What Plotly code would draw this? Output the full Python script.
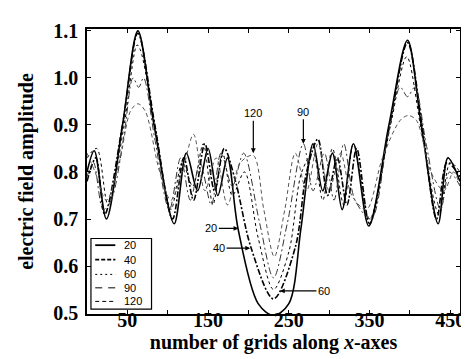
import plotly.graph_objects as go

# ---- data ----
x20 = [0, 9, 24, 44, 63, 83, 108, 123, 137, 150, 162, 174, 187, 212, 231, 250, 265, 280, 292, 304, 316, 330, 349, 374, 397, 414, 435, 447, 462]
y20 = [0.80, 0.845, 0.70, 0.90, 1.10, 0.90, 0.69, 0.84, 0.76, 0.85, 0.75, 0.83, 0.68, 0.52, 0.495, 0.52, 0.68, 0.86, 0.76, 0.84, 0.72, 0.86, 0.685, 0.90, 1.08, 0.90, 0.69, 0.83, 0.78]

x40 = [0, 11, 22, 44, 63, 84, 106, 120, 132, 146, 158, 170, 184, 203, 231, 258, 272, 286, 298, 310, 322, 334, 350, 375, 397, 415, 433, 446, 462]
y40 = [0.78, 0.83, 0.71, 0.90, 1.095, 0.90, 0.70, 0.83, 0.74, 0.86, 0.76, 0.85, 0.78, 0.64, 0.53, 0.64, 0.80, 0.87, 0.75, 0.83, 0.73, 0.85, 0.69, 0.90, 1.075, 0.90, 0.70, 0.82, 0.79]

x60 = [0, 12, 26, 46, 62, 66, 84, 104, 118, 131, 144, 156, 168, 180, 195, 212, 231, 250, 266, 280, 292, 304, 318, 330, 350, 376, 396, 414, 436, 450, 462]
y60 = [0.83, 0.85, 0.73, 0.90, 1.07, 1.06, 0.90, 0.72, 0.82, 0.77, 0.86, 0.73, 0.84, 0.75, 0.80, 0.66, 0.55, 0.63, 0.80, 0.84, 0.74, 0.85, 0.73, 0.86, 0.70, 0.90, 1.045, 0.89, 0.71, 0.82, 0.80]

x90 = [0, 8, 20, 30, 46, 57, 64, 70, 84, 102, 116, 128, 140, 154, 166, 180, 194, 214, 231, 248, 268, 280, 294, 306, 318, 332, 352, 373, 388, 397, 406, 420, 438, 449, 462]
y90 = [0.79, 0.82, 0.72, 0.74, 0.88, 1.00, 0.98, 1.00, 0.87, 0.72, 0.83, 0.74, 0.82, 0.73, 0.84, 0.77, 0.84, 0.69, 0.575, 0.69, 0.86, 0.76, 0.84, 0.74, 0.86, 0.74, 0.70, 0.88, 0.98, 0.96, 0.98, 0.86, 0.72, 0.80, 0.77]

x120 = [0, 10, 24, 40, 54, 63, 72, 90, 104, 118, 132, 146, 160, 174, 190, 206, 219, 232, 245, 258, 272, 286, 300, 314, 328, 346, 366, 388, 398, 408, 426, 442, 454, 462]
y120 = [0.84, 0.80, 0.74, 0.82, 0.93, 0.945, 0.93, 0.80, 0.74, 0.80, 0.88, 0.76, 0.83, 0.73, 0.82, 0.835, 0.72, 0.62, 0.72, 0.84, 0.76, 0.86, 0.76, 0.84, 0.75, 0.72, 0.83, 0.91, 0.92, 0.91, 0.80, 0.76, 0.80, 0.77]

series_names = ["20", "40", "60", "90", "120"]
xtick_vals = [50, 100, 150, 200, 250, 300, 350, 400, 450]
xtick_text = ["50", "", "150", "", "250", "", "350", "", "450"]
ytick_vals = [0.5, 0.6, 0.7, 0.8, 0.9, 1.0, 1.1]
ytick_text = ["0.5", "0.6", "0.7", "0.8", "0.9", "1.0", "1.1"]

styles = [
    dict(color="black", width=1.6, dash="solid"),
    dict(color="black", width=1.6, dash="6px,2px,2px,2px"),
    dict(color="black", width=1.0, dash="dot"),
    dict(color="#333333", width=1.0, dash="7px,3px,2px,3px"),
    dict(color="#555555", width=1.0, dash="4px,3px"),
]
legend_dash = ["solid", "4px,2px", "2px,3px", "7px,6px", "4px,3px"]
legend_width = [1.8, 1.8, 1.0, 1.0, 1.0]

fig = go.Figure()
for name, xs, ys, st in zip(series_names, [x20, x40, x60, x90, x120],
                            [y20, y40, y60, y90, y120], styles):
    fig.add_trace(go.Scatter(x=xs, y=ys, mode="lines", name=name, showlegend=False,
                             line=dict(shape="spline", smoothing=0.9, **st)))

serif = "Liberation Serif"
sans = "Liberation Sans"

axis_common = dict(showline=True, linecolor="black", linewidth=1.5, mirror="ticks",
                   ticks="inside", ticklen=4, tickcolor="black", showgrid=False,
                   zeroline=False,
                   tickfont=dict(family=serif, size=20, color="black", weight="bold"))

fig.update_layout(
    width=469, height=359,
    margin=dict(l=79, r=14, t=12, b=53),
    plot_bgcolor="white", paper_bgcolor="white",
    showlegend=False,
    xaxis=dict(range=[0, 462], tickmode="array", tickvals=xtick_vals, ticktext=xtick_text,
               ticklabelstandoff=-13,
               title=dict(text="number of grids along <i>x</i>-axes",
                          font=dict(family=serif, size=20, color="black", weight="bold"),
                          standoff=0),
               **axis_common),
    yaxis=dict(range=[0.498, 1.104], tickmode="array", tickvals=ytick_vals, ticktext=ytick_text,
               ticklabelstandoff=3,
               title=dict(text="electric field amplitude",
                          font=dict(family=serif, size=20, color="black", weight="bold"),
                          standoff=14),
               **axis_common),
)

# ---- legend box drawn in paper coordinates ----
fig.add_shape(type="rect", xref="paper", yref="paper", x0=0.0106, x1=0.173, y0=0.017, y1=0.265,
              line=dict(color="black", width=1.2), fillcolor="white", layer="above")
row_y = [0.2415, 0.1905, 0.139, 0.0918, 0.0442]
for name, ry, dsh, lw in zip(series_names, row_y, legend_dash, legend_width):
    fig.add_shape(type="line", xref="paper", yref="paper", x0=0.022, x1=0.076, y0=ry, y1=ry,
                  line=dict(color="black", width=lw, dash=dsh), layer="above")
    fig.add_annotation(xref="paper", yref="paper", x=0.094, y=ry, text=name, showarrow=False,
                       xanchor="left", yanchor="middle",
                       font=dict(family=sans, size=11, color="black"))

ann_font = dict(family=sans, size=11, color="black")
annots = [
    dict(x=206, y=0.84, text="120", ax=0, ay=-40),
    dict(x=268, y=0.86, text="90", ax=0, ay=-32),
    dict(x=187.5, y=0.68, text="20", ax=-27, ay=0),
    dict(x=202, y=0.638, text="40", ax=-31, ay=0),
    dict(x=239, y=0.547, text="60", ax=44, ay=0),
]
for a in annots:
    fig.add_annotation(x=a["x"], y=a["y"], text=a["text"], ax=a["ax"], ay=a["ay"],
                       showarrow=True, arrowhead=2, arrowsize=0.8, arrowwidth=1.2,
                       arrowcolor="black", font=ann_font)

fig.write_html("out.html")
